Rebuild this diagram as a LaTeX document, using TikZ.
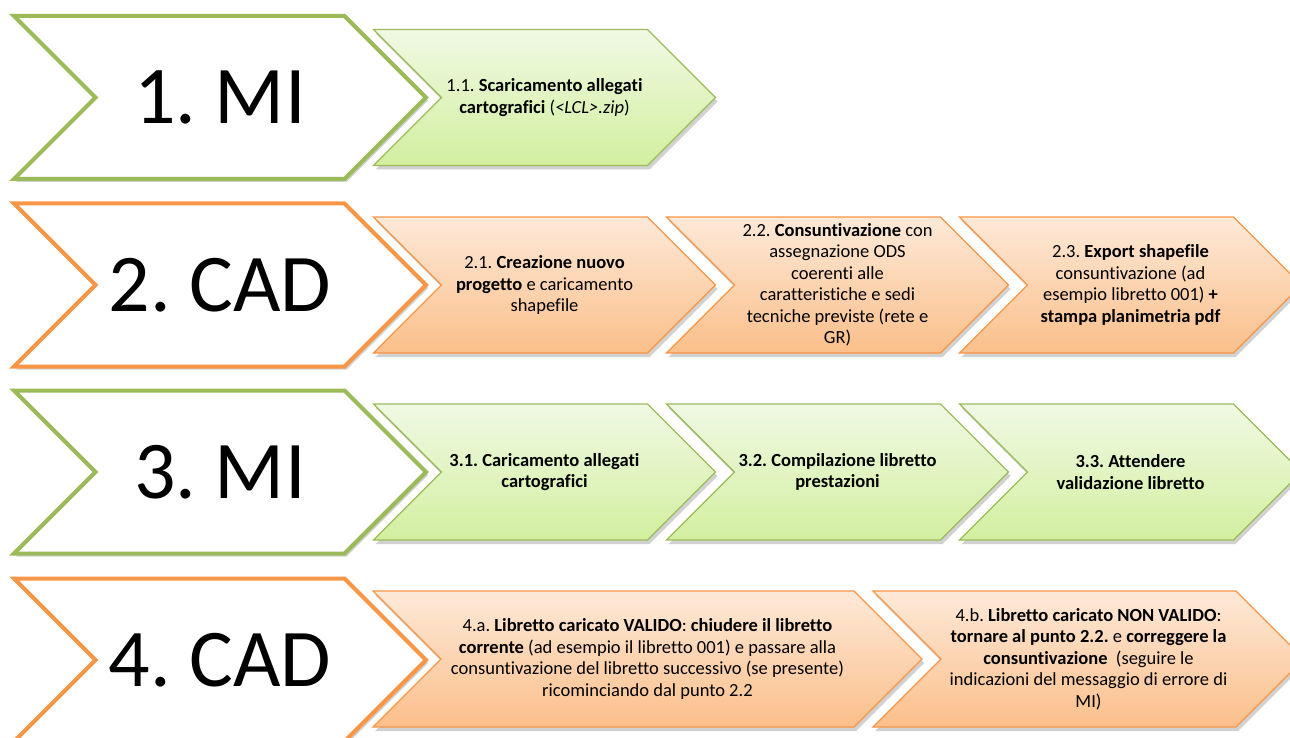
\documentclass[tikz,border=0pt]{standalone}
\usepackage{fontspec}
\setmainfont{Carlito}[Ligatures=NoCommon]
\usetikzlibrary{shapes.symbols,shadows}
\frenchspacing

\definecolor{migreen}{HTML}{9BBB59}
\definecolor{cadorange}{HTML}{F79646}
\definecolor{mitop}{HTML}{F0F9E4}
\definecolor{mibot}{HTML}{D2EF9F}
\definecolor{cadtop}{HTML}{FDE9D8}
\definecolor{cadbot}{HTML}{FBBF8A}

\tikzset{
  chev/.style={signal, signal from=west, signal to=east, signal pointer angle=90},
  phase/.style={chev, line width=4pt, fill=white, minimum width=412pt, minimum height=163pt,
    font=\fontsize{82}{90}\selectfont,
    drop shadow={shadow xshift=2pt, shadow yshift=-3pt, opacity=.3, fill=black!60}},
  task/.style={chev, line width=1.2pt, minimum width=342pt, minimum height=136pt, align=center,
    font=\fontsize{18.5}{21.5}\selectfont,
    drop shadow={shadow xshift=2pt, shadow yshift=-4pt, opacity=.3, fill=black!60}},
  mi/.style={draw=migreen},
  cad/.style={draw=cadorange},
  mitask/.style={task, draw=migreen, top color=mitop, bottom color=mibot},
  cadtask/.style={task, draw=cadorange, top color=cadtop, bottom color=cadbot}
}

\begin{document}
\begin{tikzpicture}[x=1pt, y=-1pt]
  \useasboundingbox (0,0) rectangle (1290,738);

  % Row 1: MI
  \node[mitask] (t11) at (544.5,97.5) {1.1. \textbf{Scaricamento allegati}\\ \textbf{cartografici} (\textit{<LCL>.zip})};
  \node[phase,mi] (p1) at (220,97.5) {1. MI};

  % Row 2: CAD
  \node[cadtask] (t21) at (544.5,285) {2.1. \textbf{Creazione nuovo}\\ \textbf{progetto} e caricamento\\ shapefile};
  \node[cadtask] (t22) at (837.5,285) {2.2. \textbf{Consuntivazione} con\\ assegnazione ODS\\ coerenti alle\\ caratteristiche e sedi\\ tecniche previste (rete e\\ GR)};
  \node[cadtask] (t23) at (1130.5,285) {2.3. \textbf{Export shapefile}\\ consuntivazione (ad\\ esempio libretto 001) \textbf{+}\\ \textbf{stampa planimetria pdf}};
  \node[phase,cad] (p2) at (220,285) {2. CAD};

  % Row 3: MI
  \node[mitask] (t31) at (544.5,472) {\textbf{3.1. Caricamento allegati}\\ \textbf{cartografici}};
  \node[mitask] (t32) at (837.5,472) {\textbf{3.2. Compilazione libretto}\\ \textbf{prestazioni}};
  \node[mitask] (t33) at (1130.5,472) {\textbf{3.3. Attendere}\\ \textbf{validazione libretto}};
  \node[phase,mi] (p3) at (220,472) {3. MI};

  % Row 4: CAD, two outcomes
  \node[cadtask, minimum width=549pt] (t4a) at (647.5,659) {4.a. \textbf{Libretto caricato VALIDO}: \textbf{chiudere il libretto}\\ \textbf{corrente} (ad esempio il libretto 001) e passare alla\\ consuntivazione del libretto successivo (se presente)\\ ricominciando dal punto 2.2};
  \node[cadtask, minimum width=431pt] (t4b) at (1088.5,659) {4.b. \textbf{Libretto caricato NON VALIDO}:\\ \textbf{tornare al punto 2.2.} e \textbf{correggere la}\\ \textbf{consuntivazione}\ \ (seguire le\\ indicazioni del messaggio di errore di\\ MI)};
  \node[phase,cad] (p4) at (220,660) {4. CAD};
\end{tikzpicture}
\end{document}
